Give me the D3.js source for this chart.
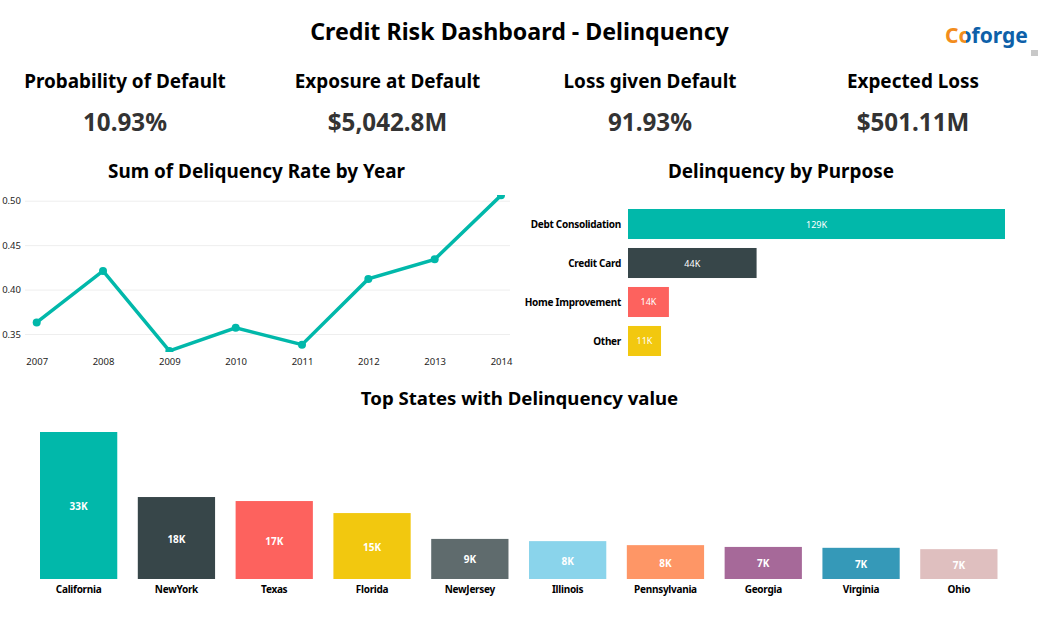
<!DOCTYPE html>
<html>
<head>
<meta charset="utf-8">
<script src="https://cdn.jsdelivr.net/npm/d3@7"></script>
<style>
  html, body { margin: 0; padding: 0; background: #fff; }
  svg { display: block; font-family: "Noto Sans", sans-serif; }
  text { fill: #000; }
  .heading { font-weight: 700; text-anchor: middle; }
  .cat { font-size: 10px; font-weight: 700; letter-spacing: -0.28px; }
  .val { fill: #fff; font-size: 10px; text-anchor: middle; }
</style>
</head>
<body>
<svg id="chart" width="1047" height="623"></svg>
<script>
const kpiTitles = ["Probability of Default", "Exposure at Default", "Loss given Default", "Expected Loss"];
const kpiValues = ["10.93%", "$5,042.8M", "91.93%", "$501.11M"];

const years = ["2007", "2008", "2009", "2010", "2011", "2012", "2013", "2014"];
const rates = [0.363, 0.421, 0.331, 0.357, 0.338, 0.412, 0.434, 0.506];
const rateTicks = [0.35, 0.40, 0.45, 0.50];

const purposes = ["Debt Consolidation", "Credit Card", "Home Improvement", "Other"];
const purposeValues = [129, 44, 14, 11.3];
const purposeLabels = ["129K", "44K", "14K", "11K"];

const states = ["California", "NewYork", "Texas", "Florida", "NewJersey", "Illinois", "Pennsylvania", "Georgia", "Virginia", "Ohio"];
const stateValues = [33, 18.4, 17.5, 14.8, 9, 8.5, 7.6, 7.2, 7, 6.7];
const stateLabels = ["33K", "18K", "17K", "15K", "9K", "8K", "8K", "7K", "7K", "7K"];

const palette = ["#01B8AA", "#374649", "#FD625E", "#F2C80F", "#5F6B6D", "#8AD4EB", "#FE9666", "#A66999", "#3599B8", "#DFBFBF"];

const svg = d3.select("#chart");
const defs = svg.append("defs");

function heading(x, y, size, str) {
    return svg.append("text")
        .attr("class", "heading")
        .attr("x", x)
        .attr("y", y)
        .attr("font-size", size)
        .text(str);
}

heading(519.5, 40, 23.2, "Credit Risk Dashboard - Delinquency");

// logo, the o is half orange half blue
const logoFill = defs.append("linearGradient")
    .attr("id", "logo-fill")
    .attr("gradientUnits", "userSpaceOnUse")
    .attr("x1", 945).attr("x2", 1030).attr("y1", 0).attr("y2", 0);
logoFill.append("stop").attr("offset", 0.25).attr("stop-color", "#F28C1E");
logoFill.append("stop").attr("offset", 0.25).attr("stop-color", "#0F5FA8");

svg.append("text")
    .attr("x", 945)
    .attr("y", 43)
    .attr("font-size", 21)
    .attr("font-weight", 700)
    .style("fill", "url(#logo-fill)")
    .text("Coforge");
svg.append("rect").attr("x", 1031).attr("y", 50).attr("width", 7).attr("height", 6).attr("fill", "#c8c8c8");

// kpi cards
kpiTitles.forEach((t, i) => {
    const cx = [125, 387.5, 650, 913][i];
    heading(cx, 88, 18.9, t);
    heading(cx, 131, 24.2, kpiValues[i]).style("fill", "#333");
});

// line chart
heading(256.5, 178, 18.9, "Sum of Deliquency Rate by Year");

const lineX = d3.scalePoint().domain(years).range([36.7, 501]);
const lineY = d3.scaleLinear().domain([0.35, 0.50]).range([334, 200.7]);

defs.append("clipPath").attr("id", "line-clip")
    .append("rect").attr("x", 20).attr("y", 195).attr("width", 495).attr("height", 157);

const yAxis = d3.axisLeft(lineY)
    .tickValues(rateTicks)
    .tickFormat(d3.format(".2f"))
    .tickSize(-485)
    .tickPadding(4);

const yG = svg.append("g")
    .attr("transform", "translate(25,0)")
    .call(yAxis);
yG.select(".domain").remove();
yG.selectAll("line").attr("stroke", "#eeeeee").attr("stroke-width", 1);
yG.selectAll("text").style("font-size", "9.5px").style("fill", "#252423").style("font-family", "Noto Sans");

const xAxis = d3.axisBottom(lineX).tickSize(0).tickPadding(0);
const xG = svg.append("g")
    .attr("transform", "translate(0,358)")
    .call(xAxis);
xG.select(".domain").remove();
xG.selectAll("text").style("font-size", "9.5px").style("fill", "#252423").style("font-family", "Noto Sans");

const plot = svg.append("g").attr("clip-path", "url(#line-clip)");
plot.append("path")
    .datum(rates)
    .attr("fill", "none")
    .attr("stroke", palette[0])
    .attr("stroke-width", 3.5)
    .attr("d", d3.line().x((d, i) => lineX(years[i])).y(d => lineY(d)));
plot.selectAll("circle")
    .data(rates)
    .enter().append("circle")
    .attr("cx", (d, i) => lineX(years[i]))
    .attr("cy", d => lineY(d))
    .attr("r", 4)
    .attr("fill", palette[0]);

// purpose bars
heading(781, 178, 18.9, "Delinquency by Purpose");

const purposeY = d3.scaleBand().domain(purposes).range([209, 356]).paddingInner(0.23);
const purposeX = d3.scaleLinear().domain([0, 129]).range([628, 1005]);

svg.append("g").selectAll("rect")
    .data(purposeValues)
    .enter().append("rect")
    .attr("x", purposeX(0))
    .attr("y", (d, i) => purposeY(purposes[i]))
    .attr("width", d => purposeX(d) - purposeX(0))
    .attr("height", purposeY.bandwidth())
    .attr("fill", (d, i) => palette[i]);

svg.append("g").selectAll("text")
    .data(purposeValues)
    .enter().append("text")
    .attr("class", "val")
    .attr("x", d => (purposeX(d) + purposeX(0)) / 2)
    .attr("y", (d, i) => purposeY(purposes[i]) + purposeY.bandwidth() / 2 + 3.5)
    .style("font-size", "9px")
    .text((d, i) => purposeLabels[i]);

svg.append("g").selectAll("text")
    .data(purposes)
    .enter().append("text")
    .attr("class", "cat")
    .attr("text-anchor", "end")
    .attr("x", 621)
    .attr("y", d => purposeY(d) + purposeY.bandwidth() / 2 + 4)
    .text(d => d);

// state bars
heading(519.5, 405, 18.6, "Top States with Delinquency value");

const stateX = d3.scaleBand().domain(states).range([40, 997.5]).paddingInner(0.21).paddingOuter(0);
const stateY = d3.scaleLinear().domain([0, 33]).range([579, 432]);

svg.append("g").selectAll("rect")
    .data(stateValues)
    .enter().append("rect")
    .attr("x", (d, i) => stateX(states[i]))
    .attr("y", d => stateY(d))
    .attr("width", stateX.bandwidth())
    .attr("height", d => stateY(0) - stateY(d))
    .attr("fill", (d, i) => palette[i]);

svg.append("g").selectAll("text")
    .data(stateValues)
    .enter().append("text")
    .attr("class", "val")
    .attr("font-weight", 700)
    .attr("x", (d, i) => stateX(states[i]) + stateX.bandwidth() / 2)
    .attr("y", d => (stateY(d) + stateY(0)) / 2 + 4.5)
    .text((d, i) => stateLabels[i]);

svg.append("g").selectAll("text")
    .data(states)
    .enter().append("text")
    .attr("class", "cat")
    .attr("text-anchor", "middle")
    .attr("x", d => stateX(d) + stateX.bandwidth() / 2)
    .attr("y", 592.5)
    .text(d => d);
</script>
</body>
</html>
